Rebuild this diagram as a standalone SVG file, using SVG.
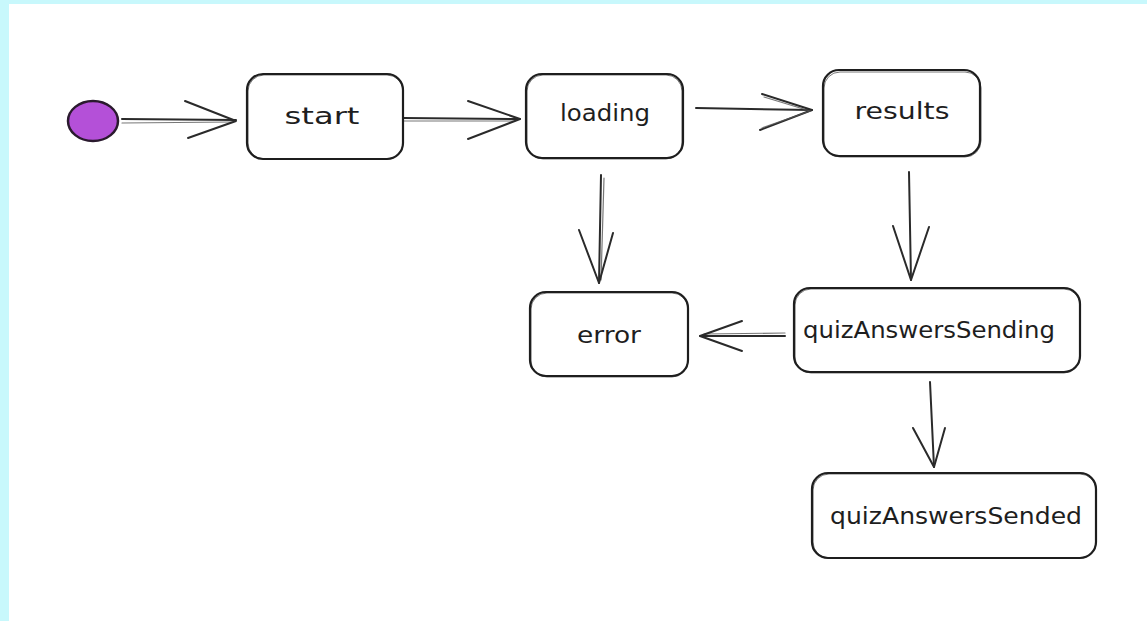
<svg xmlns="http://www.w3.org/2000/svg" width="1147" height="621" viewBox="0 0 1147 621">
  <style>
    .box { fill: #ffffff; stroke: #1e1e1e; stroke-width: 2.2; }
    .box2 { fill: none; stroke: #1e1e1e; stroke-width: 1; opacity: 0.6; }
    .edge { fill: none; stroke: #2a2a2a; stroke-width: 2; stroke-linecap: round; stroke-linejoin: round; }
    .edge2 { fill: none; stroke: #555; stroke-width: 1.2; stroke-linecap: round; opacity: 0.8; }
    .label { font-family: "DejaVu Sans", "Liberation Sans", sans-serif; font-size: 23px; fill: #1e1e1e; text-anchor: middle; dominant-baseline: central; }
  </style>

  <!-- page frame -->
  <rect x="0" y="0" width="1147" height="621" fill="#c8f8fc"/>
  <rect x="9" y="4" width="1138" height="617" fill="#ffffff"/>

  <!-- connectors -->
  <g id="connectors">
    <!-- initial -> start -->
    <path class="edge" d="M122 119 L236 120"/>
    <path class="edge2" d="M122 123 L232 122"/>
    <path class="edge" d="M185 101 L236 121 L188 138"/>
    <!-- start -> loading -->
    <path class="edge" d="M403 118 L520 119"/>
    <path class="edge2" d="M403 121 L515 121"/>
    <path class="edge" d="M468 101 L520 119 L468 139"/>
    <!-- loading -> results -->
    <path class="edge" d="M696 108 L812 110"/>
    <path class="edge" d="M762 94 L812 110 L760 130"/>
    <path class="edge2" d="M764 97 L810 111 L762 128"/>
    <!-- loading -> error -->
    <path class="edge" d="M601 175 L599 283"/>
    <path class="edge2" d="M604 178 L601 280"/>
    <path class="edge" d="M579 230 L599 283 L613 233"/>
    <!-- results -> quizAnswersSending -->
    <path class="edge" d="M909 172 L911 280"/>
    <path class="edge" d="M893 226 L911 280 L929 227"/>
    <!-- quizAnswersSending -> error -->
    <path class="edge" d="M785 336 L700 336"/>
    <path class="edge2" d="M785 333 L704 334"/>
    <path class="edge" d="M742 321 L700 336 L742 351"/>
    <!-- quizAnswersSending -> quizAnswersSended -->
    <path class="edge" d="M930 382 L934 467"/>
    <path class="edge" d="M913 428 L934 467 L945 428"/>
  </g>

  <!-- initial state -->
  <g id="initial">
    <ellipse cx="93" cy="121" rx="25" ry="20" fill="#b450d8" stroke="#2a1a2e" stroke-width="2.5"/>
  </g>

  <g id="start">
    <rect class="box" x="247" y="74" width="156" height="85" rx="16"/>
    <rect class="box2" x="248" y="75" width="155" height="84" rx="16"/>
    <text class="label" x="322" y="116" textLength="75" lengthAdjust="spacingAndGlyphs">start</text>
  </g>

  <g id="loading">
    <rect class="box" x="526" y="74" width="157" height="84" rx="16"/>
    <rect class="box2" x="527" y="75" width="155" height="84" rx="16"/>
    <text class="label" x="605" y="113" textLength="90" lengthAdjust="spacingAndGlyphs">loading</text>
  </g>

  <g id="results">
    <rect class="box" x="823" y="70" width="157" height="86" rx="16"/>
    <rect class="box2" x="824" y="72" width="157" height="85" rx="16"/>
    <text class="label" x="902" y="111" textLength="95" lengthAdjust="spacingAndGlyphs">results</text>
  </g>

  <g id="error">
    <rect class="box" x="530" y="292" width="158" height="84" rx="16"/>
    <rect class="box2" x="531" y="293" width="157" height="84" rx="16"/>
    <text class="label" x="609" y="335" textLength="64" lengthAdjust="spacingAndGlyphs">error</text>
  </g>

  <g id="quizAnswersSending">
    <rect class="box" x="794" y="288" width="286" height="84" rx="16"/>
    <rect class="box2" x="795" y="289" width="285" height="84" rx="16"/>
    <text class="label" x="929" y="330" textLength="252" lengthAdjust="spacingAndGlyphs">quizAnswersSending</text>
  </g>

  <g id="quizAnswersSended">
    <rect class="box" x="812" y="473" width="284" height="85" rx="16"/>
    <rect class="box2" x="813" y="474" width="283" height="84" rx="16"/>
    <text class="label" x="956" y="516" textLength="252" lengthAdjust="spacingAndGlyphs">quizAnswersSended</text>
  </g>
</svg>
